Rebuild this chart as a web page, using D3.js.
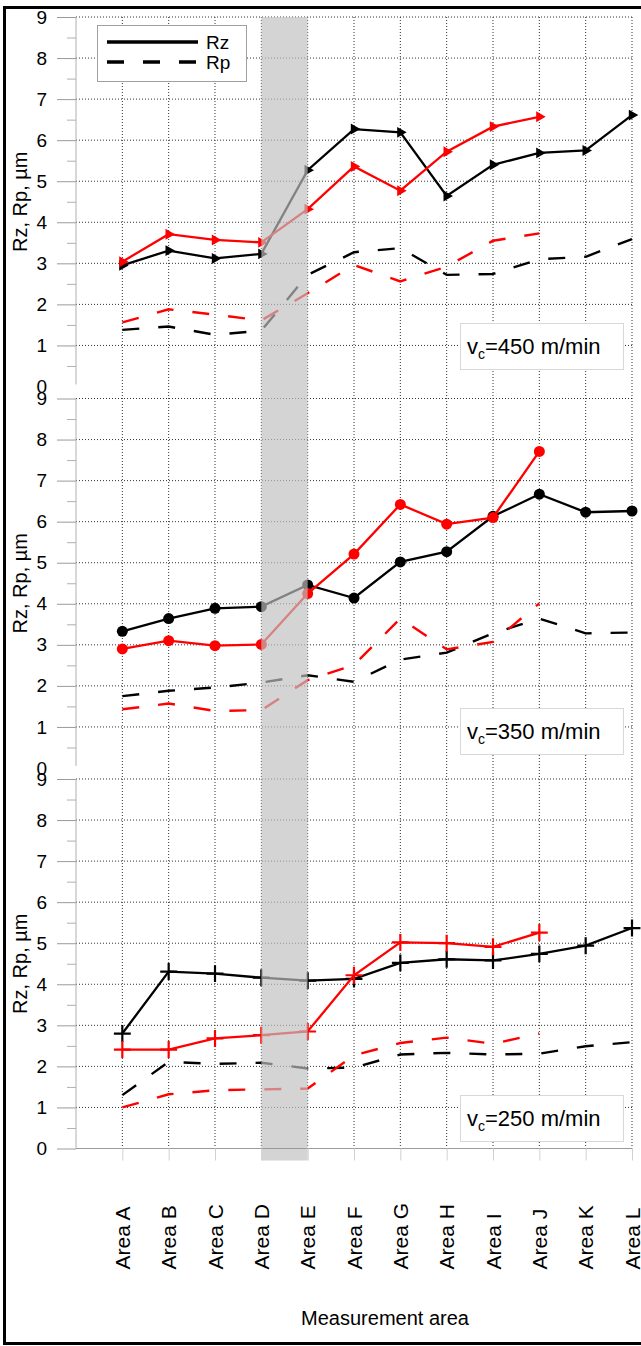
<!DOCTYPE html>
<html>
<head>
<meta charset="utf-8">
<script src="https://cdn.jsdelivr.net/npm/d3@7"></script>
<style>
  body { margin: 0; background: #fff; }
  svg { display: block; font-family: "Liberation Sans", Arial, sans-serif; }
</style>
</head>
<body>
<div id="chart"></div>
<script>
// categories and ticks
var categories = ["Area A", "Area B", "Area C", "Area D", "Area E", "Area F",
  "Area G", "Area H", "Area I", "Area J", "Area K", "Area L"];
var yTicks = [0, 1, 2, 3, 4, 5, 6, 7, 8, 9];
var yMinor = [0.5, 1.5, 2.5, 3.5, 4.5, 5.5, 6.5, 7.5, 8.5];
var speeds = ["450", "350", "250"];
var bandAreas = ["Area D", "Area E"];

// vc = 450 m/min
var rzBlack450 = [2.95, 3.31, 3.12, 3.23, 5.27, 6.27, 6.19, 4.64, 5.40, 5.69, 5.75, 6.61];
var rzRed450 = [3.04, 3.71, 3.57, 3.51, 4.32, 5.36, 4.77, 5.72, 6.33, 6.57];
var rpBlack450 = [1.38, 1.46, 1.26, 1.36, 2.72, 3.27, 3.37, 2.72, 2.74, 3.10, 3.16, 3.59];
var rpRed450 = [1.56, 1.88, 1.75, 1.61, 2.27, 2.96, 2.56, 2.92, 3.55, 3.73];

// vc = 350 m/min
var rzBlack350 = [3.33, 3.64, 3.89, 3.93, 4.46, 4.14, 5.02, 5.27, 6.13, 6.67, 6.23, 6.26];
var rzRed350 = [2.90, 3.10, 2.98, 3.01, 4.25, 5.21, 6.42, 5.94, 6.10, 7.71];
var rpBlack350 = [1.75, 1.88, 1.96, 2.08, 2.26, 2.10, 2.64, 2.81, 3.28, 3.64, 3.28, 3.30];
var rpRed350 = [1.43, 1.57, 1.39, 1.41, 2.14, 2.51, 3.64, 2.89, 3.07, 4.01];

// vc = 250 m/min
var rzBlack250 = [2.80, 4.31, 4.26, 4.16, 4.09, 4.13, 4.52, 4.61, 4.58, 4.74, 4.94, 5.37];
var rzRed250 = [2.41, 2.41, 2.68, 2.76, 2.85, 4.22, 5.02, 5.00, 4.91, 5.26];
var rpBlack250 = [1.30, 2.11, 2.06, 2.09, 1.95, 1.97, 2.29, 2.33, 2.29, 2.31, 2.49, 2.59];
var rpRed250 = [1.00, 1.32, 1.42, 1.44, 1.46, 2.27, 2.57, 2.70, 2.55, 2.80];

var panelData = [
  { rz: [rzBlack450, rzRed450], rp: [rpBlack450, rpRed450] },
  { rz: [rzBlack350, rzRed350], rp: [rpBlack350, rpRed350] },
  { rz: [rzBlack250, rzRed250], rp: [rpBlack250, rpRed250] }
];

var svgWidth = 641;
var svgHeight = 1346;

var margin = { left: 76 };
var width = 632 - margin.left;
var panelHeight = 369.5;
var panelTops = [17, 398.5, 779];
var boxTops = [323, 708, 1095];
var markerTypes = [
  d3.symbol().type(d3.symbolTriangle).size(52),
  d3.symbol().type(d3.symbolCircle).size(95),
  d3.symbol().type(d3.symbolPlus).size(95)
];
var colors = ["#000000", "#ff0000"];

var svg = d3.select("#chart")
  .append("svg")
  .attr("width", svgWidth)
  .attr("height", svgHeight);

// outer frame
svg.append("rect")
  .attr("x", 4.5)
  .attr("y", 7.5)
  .attr("width", 700)
  .attr("height", 1336)
  .attr("fill", "none")
  .attr("stroke", "#000")
  .attr("stroke-width", 3);

var xScale = d3.scalePoint()
  .domain(categories)
  .range([0, width])
  .padding(0.5)
  .align(1);

var chartGroup = svg.append("g")
  .attr("transform", `translate(${margin.left}, 0)`);

// vertical dotted grid through all panels
chartGroup.append("g")
  .selectAll("line")
  .data(categories)
  .enter()
  .append("line")
  .attr("x1", d => xScale(d))
  .attr("x2", d => xScale(d))
  .attr("y1", panelTops[0])
  .attr("y2", panelTops[2] + panelHeight)
  .attr("stroke", "#333")
  .attr("stroke-width", 1)
  .attr("stroke-dasharray", "1,2");

var line = d3.line()
  .x((d, i) => xScale(categories[i]))
  .y(d => d);

panelData.forEach(function (panel, p) {
  var top = panelTops[p];
  var yScale = d3.scaleLinear()
    .domain([0, 9])
    .range([top + panelHeight, top]);

  // horizontal dotted grid
  chartGroup.append("g")
    .selectAll("line")
    .data(yTicks.filter(d => d > 0))
    .enter()
    .append("line")
    .attr("x1", 0)
    .attr("x2", width)
    .attr("y1", d => yScale(d))
    .attr("y2", d => yScale(d))
    .attr("stroke", "#333")
    .attr("stroke-width", 1)
    .attr("stroke-dasharray", "1,2");

  // y axis
  var leftAxis = d3.axisLeft(yScale)
    .tickValues(yTicks)
    .tickSize(19)
    .tickPadding(10)
    .tickFormat(d3.format("d"));

  var axisG = chartGroup.append("g").call(leftAxis);
  axisG.select(".domain").remove();
  axisG.selectAll("line")
    .attr("stroke", "#9a9a9a")
    .attr("display", d => (d === 0 && p < 2) ? "none" : null);
  axisG.selectAll("text")
    .style("font-size", "19px")
    .style("font-family", "Liberation Sans, Arial, sans-serif")
    .attr("fill", "#000");

  var minorAxis = d3.axisLeft(yScale)
    .tickValues(yMinor)
    .tickSize(9)
    .tickFormat("");
  var minorG = chartGroup.append("g").call(minorAxis);
  minorG.select(".domain").remove();
  minorG.selectAll("line").attr("stroke", "#b0b0b0");

  chartGroup.append("line")
    .attr("x1", 0)
    .attr("x2", 0)
    .attr("y1", yScale(9))
    .attr("y2", yScale(0) - (p < 2 ? 2 : 0))
    .attr("stroke", "#b0b0b0");

  // y title
  chartGroup.append("text")
    .attr("transform", `translate(${-49}, ${top + panelHeight / 2}) rotate(-90)`)
    .style("text-anchor", "middle")
    .style("font-size", "20px")
    .text("Rz, Rp, µm");

  // Rp dashed lines
  panel.rp.forEach(function (vals, s) {
    chartGroup.append("path")
      .attr("d", line(vals.map(v => yScale(v))))
      .attr("fill", "none")
      .attr("stroke", colors[s])
      .attr("stroke-width", 2.4)
      .attr("stroke-dasharray", "17,19");
  });

  // Rz solid lines with markers
  panel.rz.forEach(function (vals, s) {
    chartGroup.append("path")
      .attr("d", line(vals.map(v => yScale(v))))
      .attr("fill", "none")
      .attr("stroke", colors[s])
      .attr("stroke-width", 2.3);

    chartGroup.selectAll()
      .data(vals)
      .enter()
      .append("path")
      .attr("d", markerTypes[p])
      .attr("transform", (d, i) => `translate(${xScale(categories[i])}, ${yScale(d)})` + (p === 0 ? " rotate(90)" : ""))
      .attr("fill", p === 2 ? "none" : colors[s])
      .attr("stroke", p === 2 ? colors[s] : "none")
      .attr("stroke-width", 2.2);
  });
});

// gray band over Area D - Area E
chartGroup.append("rect")
  .attr("x", xScale(bandAreas[0]))
  .attr("y", panelTops[0])
  .attr("width", xScale(bandAreas[1]) - xScale(bandAreas[0]))
  .attr("height", panelTops[2] + panelHeight + 12 - panelTops[0])
  .attr("fill", "#c0c0c0")
  .attr("opacity", 0.68);

// bottom x axis
var bottomY = panelTops[2] + panelHeight;
var bottomAxis = d3.axisBottom(xScale)
  .tickSize(12)
  .tickFormat("");
var xAxisG = chartGroup.append("g")
  .attr("transform", `translate(0, ${bottomY})`)
  .call(bottomAxis);
xAxisG.select(".domain")
  .attr("stroke", "#9a9a9a")
  .attr("d", `M0,0H${width}`);
xAxisG.selectAll("line").attr("stroke", "#d0d0d0");

chartGroup.append("g")
  .selectAll("text")
  .data(categories)
  .enter()
  .append("text")
  .attr("transform", d => `translate(${xScale(d)}, ${bottomY + 121}) rotate(-90)`)
  .attr("dy", "0.36em")
  .style("text-anchor", "start")
  .style("font-size", "21px")
  .text(d => d);

svg.append("text")
  .attr("x", 385)
  .attr("y", 1325)
  .style("text-anchor", "middle")
  .style("font-size", "20px")
  .text("Measurement area");

// legend
var legend = svg.append("g");
legend.append("rect")
  .attr("x", 97.5)
  .attr("y", 25.5)
  .attr("width", 149)
  .attr("height", 56)
  .attr("fill", "#fff")
  .attr("stroke", "#a0a0a0");
[["Rz", null, 42], ["Rp", "17,19", 62]].forEach(function (item) {
  legend.append("line")
    .attr("x1", 107)
    .attr("x2", 198)
    .attr("y1", item[2])
    .attr("y2", item[2])
    .attr("stroke", "#000")
    .attr("stroke-width", 3.5)
    .attr("stroke-dasharray", item[1]);
  legend.append("text")
    .attr("x", 206)
    .attr("y", item[2])
    .attr("dy", "0.36em")
    .style("font-size", "19px")
    .text(item[0]);
});

// cutting speed boxes
speeds.forEach(function (sp, p) {
  var g = svg.append("g");
  g.append("rect")
    .attr("x", 460.5)
    .attr("y", boxTops[p] + 0.5)
    .attr("width", 163)
    .attr("height", 46)
    .attr("fill", "#fff")
    .attr("stroke", "#d8d8d8");
  var t = g.append("text")
    .attr("x", 467)
    .attr("y", boxTops[p] + 31)
    .style("font-size", "22px");
  t.append("tspan").text("v");
  t.append("tspan")
    .attr("dy", 5)
    .style("font-size", "14px")
    .text("c");
  t.append("tspan")
    .attr("dy", -5)
    .text("=" + sp + " m/min");
});
</script>
</body>
</html>
